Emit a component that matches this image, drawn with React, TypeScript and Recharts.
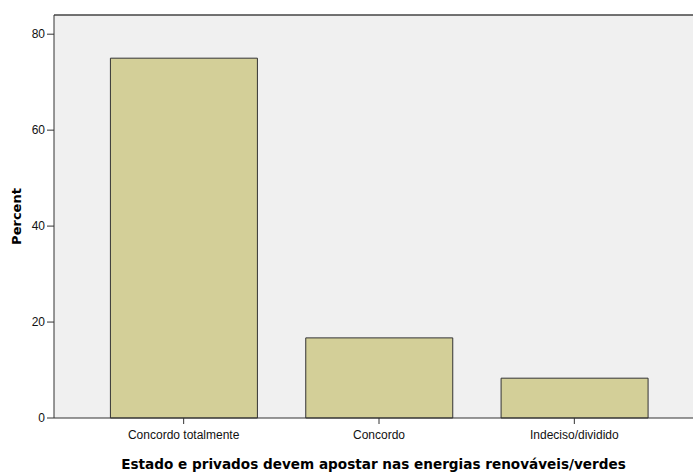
import { BarChart, Bar, XAxis, YAxis, CartesianGrid, ReferenceLine } from "recharts";

const categories = ["Concordo totalmente", "Concordo", "Indeciso/dividido"];
const percents = [75.0, 16.7, 8.3];
const yTicks = [0, 20, 40, 60, 80];

const data = categories.map((c, i) => ({ name: c, percent: percents[i] }));

const font = "'Liberation Sans', Arial, sans-serif";
const boldFont = "'DejaVu Sans', Verdana, sans-serif";

const App = () => {
  return (
    <div style={{ position: "absolute", left: 0, top: 0, background: "#fff" }}>
      <BarChart
        width={693}
        height={473}
        data={data}
        margin={{ top: 15, right: 0, bottom: 0, left: 0 }}
        barCategoryGap="12.5%"
      >
        <CartesianGrid fill="#f0f0f0" horizontal={false} vertical={false} />
        <ReferenceLine y={84} stroke="#444" strokeWidth={1.5} />
        <XAxis
          dataKey="name"
          height={55}
          padding={{ left: 32, right: 21 }}
          stroke="#333"
          tickSize={6}
          tickMargin={6}
          tick={{ fill: "#111", fontSize: 12, fontFamily: font }}
          label={{
            value: "Estado e privados devem apostar nas energias renováveis/verdes",
            position: "insideBottom",
            offset: 4,
            fill: "#000",
            fontSize: 13.6,
            fontWeight: "bold",
            fontFamily: boldFont,
          }}
        />
        <YAxis
          width={54}
          domain={[0, 84]}
          ticks={yTicks}
          stroke="#333"
          tickSize={7}
          tickMargin={2}
          tick={{ fill: "#111", fontSize: 12, fontFamily: font }}
          label={{
            value: "Percent",
            angle: -90,
            position: "insideLeft",
            offset: 16,
            fill: "#000",
            fontSize: 13,
            fontWeight: "bold",
            fontFamily: boldFont,
            style: { textAnchor: "middle" },
          }}
        />
        <Bar
          dataKey="percent"
          fill="#d3cf98"
          stroke="#333"
          strokeWidth={1}
          isAnimationActive={false}
        />
      </BarChart>
    </div>
  );
};

export default App;
